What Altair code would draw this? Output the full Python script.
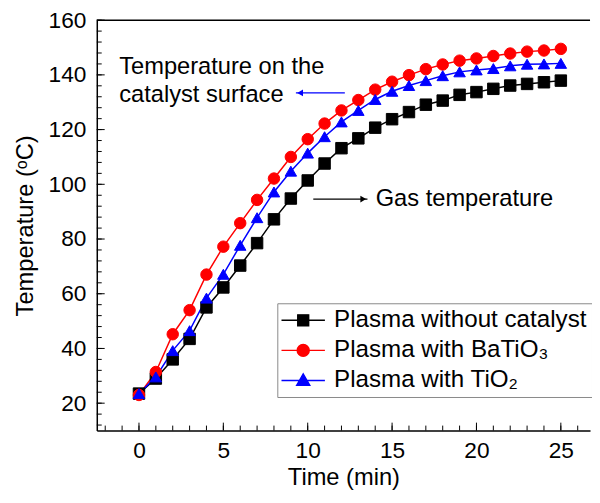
import altair as alt
import pandas as pd

# ---------------- data ----------------
time_min = list(range(26))
no_catalyst = [23.5, 29.0, 36.0, 43.5, 55.0, 62.3, 70.3, 78.5, 87.2, 94.8, 101.4, 107.6, 113.2,
               116.8, 120.7, 123.8, 126.4, 129.1, 130.6, 132.7, 133.7, 134.9, 136.1, 136.7, 137.3, 137.9]
batio3 = [23.0, 31.4, 45.2, 54.0, 67.0, 77.2, 85.8, 94.3, 102.1, 110.0, 116.5, 122.2, 127.0,
          130.8, 134.6, 137.5, 139.9, 142.1, 143.8, 145.2, 146.0, 146.9, 147.8, 148.5, 148.9, 149.5]
tio2 = [23.5, 29.6, 39.2, 46.5, 58.4, 67.1, 77.7, 87.8, 97.2, 104.8, 111.4, 117.4, 122.8,
        127.0, 131.0, 134.0, 136.1, 137.9, 139.7, 141.1, 141.8, 142.3, 143.3, 143.9, 144.0, 144.2]

series_names = ["Plasma without catalyst", "Plasma with BaTiO\u2083", "Plasma with TiO\u2082"]
series_colors = ["#000000", "#ff0000", "#0000ff"]
series_shapes = ["square", "circle", "triangle-up"]
legend_paths = [
    "M-2,0H2M-0.5,-0.5H0.5V0.5H-0.5Z",
    "M-2,0H2M0.55,0A0.55,0.55,0,1,1,-0.55,0A0.55,0.55,0,1,1,0.55,0Z",
    "M-2,0H2M-0.6,0.45L0,-0.6L0.6,0.45Z",
]

x_major_ticks = [0, 5, 10, 15, 20, 25]
x_minor_ticks = list(range(-2, 27))
y_major_ticks = [20, 40, 60, 80, 100, 120, 140, 160]
y_minor_ticks = list(range(12, 161, 4))

ann_text = ["Temperature on the", "catalyst surface", "Gas temperature"]
ann_x = [-1.17, -1.17, 14.03]
ann_y = [140.2, 130.1, 91.9]

arrow_x = [12.2, 10.33]
arrow_x2 = [9.3, 13.54]
arrow_y = [133.4, 94.6]
arrow_color = ["#0000ff", "#000000"]
arrow_head_x = [9.55, 13.29]
arrow_head_shape = ["triangle-left", "triangle-right"]

# ---------------- tables ----------------
rows = []
for name, vals in zip(series_names, [no_catalyst, batio3, tio2]):
    for t, v in zip(time_min, vals):
        rows.append({"time": t, "temp": v, "series": name})
df = pd.DataFrame(rows)

df_ann = pd.DataFrame({"x": ann_x, "y": ann_y, "text": ann_text})
df_arrow = pd.DataFrame({"x": arrow_x, "x2": arrow_x2, "y": arrow_y, "c": arrow_color,
                         "hx": arrow_head_x, "shape": arrow_head_shape})

W, H = 500, 416
FONT = "Liberation Sans"
xscale = alt.Scale(domain=[-2.5, 26.73], nice=False, zero=False)
yscale = alt.Scale(domain=[10, 160], nice=False, zero=False)

x_axis = alt.Axis(values=x_major_ticks, title="Time (min)", labelPadding=9, titlePadding=4,
                  ticks=False, tickSize=0)
y_axis = alt.Axis(values=y_major_ticks, title="Temperature (\u1d52C)", labelPadding=11,
                  titlePadding=11, ticks=False, tickSize=0)


def X(field):
    return alt.X(field, scale=xscale, axis=x_axis)


def Y(field):
    return alt.Y(field, scale=yscale, axis=y_axis)


color_scale = alt.Scale(domain=series_names, range=series_colors)

shape_expr = "[{}][indexof([{}], datum.value)]".format(
    ",".join("'" + p + "'" for p in legend_paths),
    ",".join("'" + s + "'" for s in series_names),
)
legend = alt.Legend(
    title=None, orient="none", legendX=183, legendY=287,
    symbolSize=484, symbolOffset=9, labelOffset=19, padding=5, rowPadding=5.5,
    labelFont=FONT, labelFontSize=24.5, labelColor="black", labelLimit=0,
    strokeColor="#888888", fillColor="white", symbolStrokeWidth=1.5,
    symbolOpacity=1, symbolType=alt.ExprRef(expr=shape_expr),
)

lines = alt.Chart(df).mark_line(strokeWidth=1.5).encode(
    x=X("time:Q"), y=Y("temp:Q"),
    color=alt.Color("series:N", scale=color_scale, legend=legend),
)

points = alt.Chart(df).mark_point(filled=True, opacity=1, strokeWidth=1, size=135).encode(
    x=X("time:Q"), y=Y("temp:Q"),
    color=alt.Color("series:N", scale=color_scale, legend=legend),
    stroke=alt.Stroke("series:N", scale=color_scale, legend=None),
    shape=alt.Shape("series:N", scale=alt.Scale(domain=series_names, range=series_shapes), legend=None),
)


def xticks(vals, length):
    return alt.Chart(pd.DataFrame({"v": vals})).mark_rule(color="black", strokeWidth=1).encode(
        x=X("v:Q"), y=alt.value(H), y2=alt.value(H - length))


def yticks(vals, length):
    return alt.Chart(pd.DataFrame({"v": vals})).mark_rule(color="black", strokeWidth=1).encode(
        y=Y("v:Q"), x=alt.value(0), x2=alt.value(length))


top_line = alt.Chart(pd.DataFrame({"a": [0]})).mark_rule(color="black", strokeWidth=1.5).encode(
    x=alt.value(0), x2=alt.value(W), y=alt.value(0))

texts = alt.Chart(df_ann).mark_text(align="left", baseline="alphabetic", font=FONT,
                                     fontSize=24, color="black").encode(
    x=X("x:Q"), y=Y("y:Q"), text="text:N")

arrow_lines = alt.Chart(df_arrow).mark_rule(strokeWidth=1.2).encode(
    x=X("x:Q"), x2="x2:Q", y=Y("y:Q"),
    stroke=alt.Stroke("c:N", scale=None, legend=None))

arrow_heads = alt.Chart(df_arrow).mark_point(filled=True, opacity=1, size=45).encode(
    x=X("hx:Q"), y=Y("y:Q"),
    shape=alt.Shape("shape:N", scale=None, legend=None),
    fill=alt.Fill("c:N", scale=None, legend=None))

chart = alt.layer(
    lines, points,
    xticks(x_minor_ticks, 5), xticks(x_major_ticks, 8),
    yticks(y_minor_ticks, 5), yticks(y_major_ticks, 8),
    top_line, texts, arrow_lines, arrow_heads,
).resolve_scale(shape="independent", stroke="independent", fill="independent").properties(
    width=W, height=H, autosize="none",
    padding={"left": 90, "top": 9, "right": 2, "bottom": 60},
    background="white",
).configure_view(stroke=None).configure_axis(
    labelFont=FONT, labelFontSize=23, labelColor="black",
    titleFont=FONT, titleFontSize=24, titleFontWeight="normal", titleColor="black",
    domainColor="black", domainWidth=1.5, grid=False,
)

chart.save("out.html", embed_options={"renderer": "svg", "actions": False})
